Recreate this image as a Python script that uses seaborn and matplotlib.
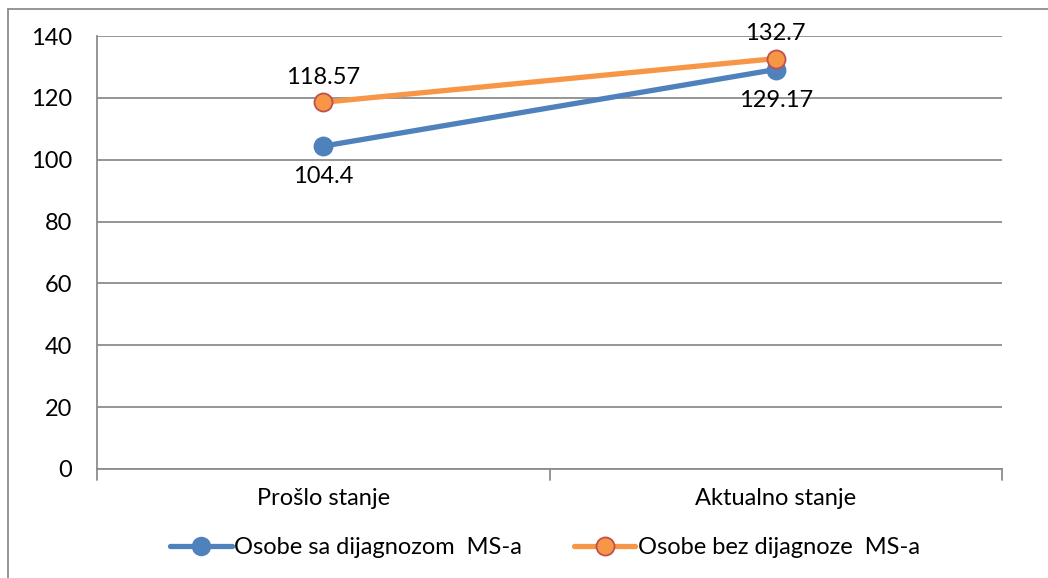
import pandas as pd
import matplotlib.pyplot as plt
import matplotlib.lines as mlines
import seaborn as sns

categories = ["Prošlo stanje", "Aktualno stanje"]
series_names = ["Osobe sa dijagnozom  MS-a", "Osobe bez dijagnoze  MS-a"]
sa_ms = [104.4, 129.17]
bez_ms = [118.57, 132.7]
y_ticks = [0, 20, 40, 60, 80, 100, 120, 140]

df = pd.DataFrame({
    "stanje": categories * 2,
    "vrijednost": sa_ms + bez_ms,
    "grupa": [series_names[0]] * 2 + [series_names[1]] * 2,
})
df["x"] = df["stanje"].map({c: i for i, c in enumerate(categories)})

sns.set_theme(style="white")
plt.rcParams["font.family"] = ["Lato", "DejaVu Sans"]
plt.rcParams["text.color"] = "black"
plt.rcParams["xtick.labelcolor"] = "black"
plt.rcParams["ytick.labelcolor"] = "black"

blue = "#4F81BD"
orange = "#F79646"
grid_col = "#8C8C8C"
fs = 17

fig = plt.figure(figsize=(10.48, 5.78), dpi=100)
ax = fig.add_axes([0.0926, 0.1886, 0.8635, 0.7491])

sns.lineplot(data=df, x="x", y="vrijednost", hue="grupa",
             palette=[blue, orange], linewidth=3.8, marker="o",
             markersize=13, legend=False, ax=ax)

# marker edges like the original
for line, edge in zip(ax.lines, [blue, "#C0504D"]):
    line.set_markeredgecolor(edge)
    line.set_markeredgewidth(1.3)

ax.set_xlim(-0.5, 1.5)
ax.set_ylim(0, 140)
ax.set_yticks(y_ticks)
ax.set_yticklabels([str(t) for t in y_ticks], fontsize=fs, color="black")
ax.set_xticks([0, 1])
ax.set_xticklabels(categories, fontsize=fs, color="black")
ax.set_xlabel("")
ax.set_ylabel("")
ax.yaxis.grid(True, color=grid_col, linewidth=1.3)
ax.set_axisbelow(True)
for s in ["top", "right"]:
    ax.spines[s].set_visible(False)
ax.spines["left"].set_color(grid_col)
ax.spines["bottom"].set_color(grid_col)
ax.spines["left"].set_linewidth(1.3)
ax.spines["bottom"].set_linewidth(1.3)
ax.tick_params(axis="y", length=6, color=grid_col, width=1.3, pad=12)
ax.tick_params(axis="x", length=0, pad=14)

# category boundary ticks
for xb in [-0.5, 0.5, 1.5]:
    ax.plot([xb, xb], [0, -3.5], color=grid_col, linewidth=1.3, clip_on=False)

# data labels
for i, v in enumerate(sa_ms):
    ax.annotate(f"{v:g}", (i, v), xytext=(0, -22), textcoords="offset points",
                ha="center", va="center", fontsize=fs, color="black")
for i, v in enumerate(bez_ms):
    ax.annotate(f"{v:g}", (i, v), xytext=(0, 18), textcoords="offset points",
                ha="center", va="center", fontsize=fs, color="black")

# legend
handles = [
    mlines.Line2D([], [], color=blue, linewidth=3.8, marker="o", markersize=13,
                  markeredgecolor=blue),
    mlines.Line2D([], [], color=orange, linewidth=3.8, marker="o", markersize=13,
                  markeredgecolor="#C0504D", markeredgewidth=1.3),
]
fig.legend(handles, series_names, loc="center", bbox_to_anchor=(0.52, 0.053),
           ncol=2, frameon=False, fontsize=fs, handlelength=2.6,
           handletextpad=0.1, columnspacing=2.2)

# outer chart frame (partially visible)
fig.add_artist(mlines.Line2D([8 / 1048, 8 / 1048], [0, 1 - 9 / 578],
                             color=grid_col, linewidth=1.3))
fig.add_artist(mlines.Line2D([8 / 1048, 1], [1 - 9 / 578, 1 - 9 / 578],
                             color=grid_col, linewidth=1.3))

fig.savefig("out.png", dpi=100, facecolor="white")
